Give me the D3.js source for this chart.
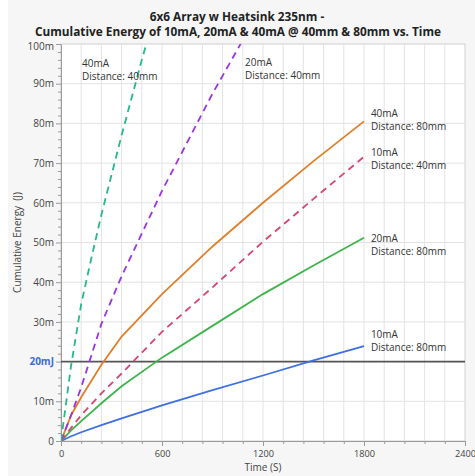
<!DOCTYPE html>
<html lang="en">
<head>
  <meta charset="utf-8">
  <title>Cumulative Energy vs. Time</title>
  <script src="https://cdnjs.cloudflare.com/ajax/libs/d3/7.8.5/d3.min.js"></script>
  <style>
    body { margin: 0; background: #ffffff; }
    #ChartArea { width: 475px; height: 476px; }
    text { font-family: "Open Sans", "Noto Sans", sans-serif; }
  </style>
</head>
<body>
  <div id="ChartArea"></div>

<script>
// ---- data (energy in mJ, time in s) ----
const tSeries = [0, 60, 120, 240, 360, 600, 900, 1200, 1500, 1800];
const e10mA80 = [0, 1.2, 2.2, 4.0, 5.7, 9.0, 12.8, 16.5, 20.3, 23.9];
const e20mA80 = [0, 2.7, 5.0, 9.5, 13.8, 21.0, 29.0, 37.0, 44.2, 51.2];
const e10mA40 = [0, 3.3, 6.5, 12.0, 17.0, 27.5, 38.7, 50.2, 61.0, 71.6];
const e40mA80 = [0, 6.5, 11.0, 19.2, 26.3, 37.0, 49.0, 60.0, 70.5, 80.5];

const t20mA40 = [0, 60, 120, 180, 240, 360, 600, 900, 1200];
const e20mA40 = [0, 6.5, 13.5, 21.5, 29.5, 41.5, 63.0, 87.5, 110];

const t40mA40 = [0, 60, 120, 180, 240, 360, 480, 600];
const e40mA40 = [0, 19, 34.5, 46, 57, 77, 96, 114];

const xTicks = [0, 600, 1200, 1800, 2400];
const yTicks = [0, 10, 20, 30, 40, 50, 60, 70, 80, 90, 100];
const yTickLabels = ["0", "10m", "20mJ", "30m", "40m", "50m", "60m", "70m", "80m", "90m", "100m"];
const threshold = 20;

const titleLines = ["6x6 Array w Heatsink 235nm -",
  "Cumulative Energy of 10mA, 20mA & 40mA @ 40mm & 80mm vs. Time"];

// notes placed in data coordinates
const notes = [
  { lines: ["40mA", "Distance: 40mm"], t: 125, e: 94.3 },
  { lines: ["20mA", "Distance: 40mm"], t: 1093, e: 94.5 },
  { lines: ["40mA", "Distance: 80mm"], t: 1841, e: 81.6 },
  { lines: ["10mA", "Distance: 40mm"], t: 1841, e: 71.8 },
  { lines: ["20mA", "Distance: 80mm"], t: 1841, e: 50.1 },
  { lines: ["10mA", "Distance: 80mm"], t: 1841, e: 25.9 }
];

const series = [
  { t: tSeries, e: e10mA80, color: "#3f6fe0", dash: null },
  { t: tSeries, e: e20mA80, color: "#3eb54c", dash: null },
  { t: tSeries, e: e10mA40, color: "#d8466f", dash: "7,5" },
  { t: tSeries, e: e40mA80, color: "#e07f2a", dash: null },
  { t: t20mA40, e: e20mA40, color: "#9b35e3", dash: "7,5" },
  { t: t40mA40, e: e40mA40, color: "#26b888", dash: "7,5" }
];

// ---- layout ----
const W = 475, H = 476;
const margin = { top: 44, right: 10, bottom: 35, left: 61 };
const width = W - margin.left - margin.right;
const height = H - margin.top - margin.bottom;

const svg = d3.select("#ChartArea").append("svg")
  .attr("width", W)
  .attr("height", H);

// panel background
svg.append("rect")
  .attr("x", 8).attr("y", 0)
  .attr("width", W - 8).attr("height", H)
  .attr("fill", "#f6f6f6");

const x = d3.scaleLinear().domain([0, 2400]).range([0, width]);
const y = d3.scaleLinear().domain([0, 100]).range([height, 0]);

const g = svg.append("g")
  .attr("transform", "translate(" + margin.left + "," + margin.top + ")");

// plot area
g.append("rect")
  .attr("width", width).attr("height", height)
  .attr("fill", "#ffffff")
  .attr("stroke", "#d0d0d0");

g.append("clipPath").attr("id", "plotClip")
  .append("rect").attr("width", width).attr("height", height);

// grid: vertical every 120 s, horizontal every 10 mJ
g.append("g")
  .selectAll("line")
  .data(d3.range(120, 2400, 120))
  .enter().append("line")
  .attr("x1", d => x(d)).attr("x2", d => x(d))
  .attr("y1", 0).attr("y2", height)
  .attr("stroke", "#e3e3e3");

g.append("g")
  .selectAll("line")
  .data(yTicks.slice(1, -1))
  .enter().append("line")
  .attr("x1", 0).attr("x2", width)
  .attr("y1", d => y(d)).attr("y2", d => y(d))
  .attr("stroke", "#e3e3e3");

// x axis
const xAxis = g.append("g")
  .attr("transform", "translate(0," + height + ")")
  .call(d3.axisBottom(x).tickValues(xTicks).tickSize(5).tickSizeOuter(0).tickPadding(4)
    .tickFormat(d3.format("d")));
g.append("g")
  .attr("transform", "translate(0," + height + ")")
  .call(d3.axisBottom(x).tickValues(d3.range(120, 2400, 120).filter(d => d % 600 != 0))
    .tickSize(3).tickFormat("").tickSizeOuter(0))
  .select(".domain").remove();

// y axis
const yAxis = g.append("g")
  .call(d3.axisLeft(y).tickValues(yTicks).tickSize(5).tickSizeOuter(0).tickPadding(2)
    .tickFormat((d, i) => yTickLabels[i]));
g.append("g")
  .call(d3.axisLeft(y).tickValues(d3.range(2, 100, 2).filter(d => d % 10 != 0))
    .tickSize(3).tickFormat("").tickSizeOuter(0))
  .select(".domain").remove();

g.selectAll(".domain, .tick line").attr("stroke", "#9a9a9a");
xAxis.selectAll("text").attr("font-size", 9.2).attr("fill", "#444");
yAxis.selectAll("text").attr("font-size", 10).attr("fill", "#444");
yAxis.selectAll(".tick")
  .filter(d => d === threshold)
  .select("text")
  .attr("fill", "#3a6bd6")
  .attr("font-weight", "bold");
// top label sits tight under the title
yAxis.selectAll(".tick")
  .filter(d => d === 100)
  .select("text")
  .attr("dy", "0.55em");

// threshold line 20 mJ
g.append("line")
  .attr("x1", 0).attr("x2", width)
  .attr("y1", y(threshold)).attr("y2", y(threshold))
  .attr("stroke", "#555")
  .attr("stroke-width", 1.6);

// lines
const line = d3.line()
  .x(d => x(d[0]))
  .y(d => y(d[1]));

g.append("g")
  .attr("clip-path", "url(#plotClip)")
  .selectAll("path")
  .data(series)
  .enter().append("path")
  .attr("d", s => line(s.t.map((t, i) => [t, s.e[i]])))
  .attr("fill", "none")
  .attr("stroke", s => s.color)
  .attr("stroke-width", 1.8)
  .attr("stroke-dasharray", s => s.dash);

// notes
notes.forEach(n => {
  const txt = g.append("text")
    .attr("x", x(n.t))
    .attr("y", y(n.e))
    .attr("font-size", 10)
    .attr("fill", "#333");
  n.lines.forEach((l, i) => {
    txt.append("tspan")
      .attr("x", x(n.t))
      .attr("dy", i === 0 ? 0 : 13)
      .text(l);
  });
});

// titles
svg.append("text")
  .attr("x", 237).attr("y", 21)
  .attr("text-anchor", "middle")
  .attr("font-size", 11.8).attr("font-weight", "bold").attr("fill", "#222")
  .text(titleLines[0]);
svg.append("text")
  .attr("x", 238).attr("y", 36)
  .attr("text-anchor", "middle")
  .attr("font-size", 11.8).attr("font-weight", "bold").attr("fill", "#222")
  .text(titleLines[1]);

// axis titles
svg.append("text")
  .attr("x", margin.left + x(1200)).attr("y", 471)
  .attr("text-anchor", "middle")
  .attr("font-size", 10).attr("fill", "#444")
  .text("Time (S)");

svg.append("text")
  .attr("transform", "translate(21," + (margin.top + height / 2) + ") rotate(-90)")
  .attr("text-anchor", "middle")
  .attr("font-size", 10).attr("fill", "#444")
  .attr("xml:space", "preserve")
  .text("Cumulative Energy  (J)");
</script>
</body>
</html>
